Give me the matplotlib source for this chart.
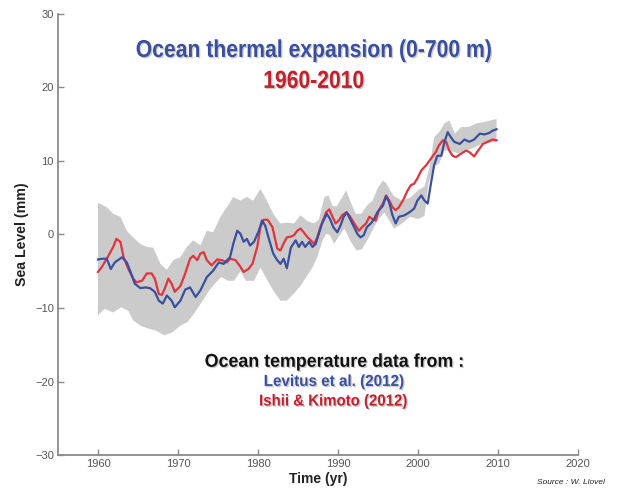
import numpy as np
import matplotlib
matplotlib.use("Agg")
from matplotlib import pyplot as plt
from matplotlib.transforms import Affine2D
import matplotlib.patheffects as pe

# Levitus et al. (2012), blue
lev_years = [1960.0, 1960.5, 1961.1, 1961.6, 1962.1, 1963.0, 1963.6, 1964.0, 1964.6, 1965.3,
             1965.9, 1966.5, 1967.1, 1967.6, 1968.1, 1968.6, 1969.2, 1969.6, 1970.3, 1970.9,
             1971.5, 1972.2, 1972.8, 1973.6, 1974.4, 1975.1, 1975.7, 1976.5, 1976.9, 1977.4,
             1977.8, 1978.2, 1978.6, 1979.0, 1979.5, 1980.1, 1980.5, 1980.9, 1981.3, 1981.9,
             1982.4, 1982.8, 1983.2, 1983.6, 1984.1, 1984.7, 1985.1, 1985.5, 1985.9, 1986.4,
             1986.8, 1987.2, 1987.6, 1988.0, 1988.6, 1989.0, 1989.4, 1989.9, 1990.3, 1990.7,
             1991.1, 1991.5, 1992.0, 1992.4, 1992.8, 1993.2, 1993.6, 1994.1, 1994.5, 1994.9,
             1995.6, 1996.0, 1996.4, 1996.8, 1997.2, 1997.6, 1998.3, 1998.9, 1999.5, 1999.9,
             2000.4, 2000.8, 2001.2, 2001.6, 2002.0, 2002.4, 2002.9, 2003.3, 2003.7, 2004.1,
             2004.5, 2005.2, 2005.8, 2006.4, 2007.0, 2007.7, 2008.3, 2008.9, 2009.3, 2009.8]
lev_mm = [-3.4, -3.3, -3.3, -4.7, -3.8, -3.1, -3.8, -4.9, -6.7, -7.3,
          -7.2, -7.3, -7.8, -9.0, -9.4, -8.3, -9.0, -9.9, -9.0, -7.5,
          -7.2, -8.5, -7.6, -5.8, -4.9, -3.8, -4.0, -3.1, -1.3, 0.5,
          0.1, -1.0, -0.6, -1.5, -1.0, 0.5, 1.9, 1.2, -0.4, -2.6,
          -3.5, -4.0, -3.3, -4.6, -1.8, -0.8, -1.7, -1.0, -1.7, -1.0,
          -1.7, -1.3, 0.1, 1.5, 2.8, 2.1, 1.0, 0.3, 1.2, 2.4,
          3.0, 2.1, 1.0, 0.1, -0.4, -0.1, 1.0, 1.5, 2.1, 3.0,
          3.9, 5.2, 4.3, 2.6, 1.5, 2.4, 2.6, 3.0, 3.5, 4.6,
          5.3, 4.6, 4.2, 6.9, 9.4, 10.7, 10.7, 12.6, 13.9, 13.2,
          12.6, 12.3, 12.9, 12.6, 12.9, 13.7, 13.6, 13.8, 14.1, 14.3]

# Ishii & Kimoto (2012), red
ish_years = [1960.0, 1960.5, 1961.3, 1961.9, 1962.3, 1962.8, 1963.2, 1963.8, 1964.4, 1964.8,
             1965.5, 1966.1, 1966.7, 1967.1, 1967.6, 1968.0, 1968.4, 1968.8, 1969.2, 1969.6,
             1970.3, 1970.9, 1971.5, 1971.9, 1972.4, 1972.8, 1973.2, 1973.6, 1974.2, 1974.9,
             1975.5, 1976.1, 1976.5, 1977.2, 1977.8, 1978.2, 1978.8, 1979.3, 1979.9, 1980.3,
             1980.7, 1981.2, 1981.8, 1982.4, 1982.8, 1983.2, 1983.6, 1984.1, 1984.5, 1984.9,
             1985.3, 1985.7, 1986.2, 1986.6, 1987.0, 1987.4, 1987.8, 1988.5, 1988.9, 1989.3,
             1989.7, 1990.1, 1990.5, 1991.0, 1991.4, 1991.8, 1992.2, 1992.6, 1993.0, 1993.5,
             1993.9, 1994.3, 1994.7, 1995.1, 1995.6, 1996.0, 1996.4, 1996.8, 1997.2, 1997.6,
             1998.1, 1998.7, 1999.1, 1999.5, 1999.9, 2000.4, 2001.0, 2001.6, 2002.2, 2002.6,
             2003.1, 2003.5, 2003.9, 2004.3, 2004.7, 2005.4, 2006.0, 2006.4, 2007.0, 2007.7,
             2008.1, 2008.7, 2009.3, 2009.8]
ish_mm = [-5.1, -4.4, -2.9, -1.7, -0.6, -1.0, -3.1, -4.7, -6.0, -6.5,
          -6.3, -5.3, -5.3, -6.0, -8.1, -8.2, -7.2, -6.0, -6.7, -7.8,
          -7.0, -5.3, -3.3, -2.9, -3.5, -2.6, -2.4, -3.5, -4.2, -3.4,
          -3.5, -3.8, -3.3, -3.5, -4.4, -5.1, -4.7, -4.0, -1.7, 1.0,
          2.0, 2.0, 1.0, -1.9, -2.2, -1.2, -0.4, -0.3, -0.1, 0.5,
          0.8, 0.3, -0.4, -0.8, -1.3, -0.4, 1.0, 3.0, 3.4, 2.4,
          1.5, 1.9, 2.6, 3.0, 2.6, 1.9, 1.2, 0.5, 1.0, 1.5,
          2.4, 2.1, 1.9, 3.3, 4.2, 5.3, 4.6, 3.7, 3.3, 3.7,
          4.6, 6.0, 6.7, 6.9, 7.6, 8.7, 9.4, 10.3, 11.2, 12.1,
          12.8, 12.6, 11.4, 10.7, 10.5, 11.0, 11.4, 11.2, 10.6, 11.7,
          12.3, 12.6, 12.9, 12.8]

# uncertainty envelope (grey)
up_years = [1960.0, 1961.1, 1961.9, 1962.8, 1963.6, 1964.4, 1965.3, 1966.1, 1966.9, 1967.8,
            1968.6, 1969.4, 1970.3, 1971.1, 1971.9, 1972.8, 1973.6, 1974.4, 1975.3, 1976.1,
            1976.9, 1977.8, 1978.6, 1979.4, 1980.3, 1981.1, 1981.9, 1982.8, 1983.6, 1984.5,
            1985.3, 1986.2, 1987.0, 1987.6, 1988.3, 1988.8, 1989.3, 1989.8, 1990.5, 1991.0,
            1991.5, 1992.2, 1992.9, 1993.6, 1994.3, 1995.0, 1995.6, 1996.0, 1996.5, 1997.0,
            1998.0, 1999.0, 2000.0, 2000.8, 2001.5, 2002.0, 2002.7, 2003.3, 2003.9, 2004.6,
            2005.4, 2006.3, 2007.3, 2008.3, 2009.1, 2009.8]
up_mm = [4.3, 3.7, 2.8, 2.4, 0.5, -0.4, -1.3, -1.7, -1.8, -4.0,
         -4.8, -3.5, -3.1, -1.7, -0.8, -1.5, 0.5, 0.3, 2.4, 3.7,
         5.1, 4.6, 5.1, 4.6, 6.2, 4.6, 2.8, 1.5, 1.6, 1.5,
         2.6, 1.8, 1.5, 2.0, 5.1, 5.3, 3.9, 3.8, 5.0, 6.0,
         4.6, 2.8, 2.8, 3.9, 4.6, 6.4, 7.3, 7.0, 6.0, 5.2,
         4.6, 5.0, 6.0, 6.5, 9.5, 13.2, 14.0, 15.1, 15.5, 13.7,
         14.6, 14.6, 15.1, 15.3, 15.5, 15.7]
lo_years = [1960.0, 1960.8, 1961.9, 1962.9, 1963.8, 1964.4, 1965.3, 1966.3, 1967.3, 1968.3,
            1969.3, 1970.3, 1971.2, 1972.1, 1973.1, 1973.9, 1974.6, 1975.4, 1976.3, 1977.0,
            1977.8, 1978.5, 1979.5, 1980.3, 1981.2, 1981.9, 1982.8, 1983.6, 1984.5, 1985.3,
            1986.2, 1986.8, 1987.4, 1988.0, 1988.5, 1989.0, 1989.5, 1990.0, 1990.8, 1991.5,
            1992.3, 1993.0, 1993.8, 1994.5, 1995.1, 1995.8, 1996.4, 1997.0, 1998.0, 1999.0,
            2000.0, 2000.8, 2001.3, 2001.9, 2002.6, 2003.3, 2004.0, 2005.0, 2006.0, 2007.0,
            2008.0, 2009.8]
lo_mm = [-11.0, -10.1, -10.6, -9.9, -10.4, -11.7, -12.4, -12.8, -13.1, -13.7,
         -13.3, -12.4, -11.9, -10.6, -9.0, -7.6, -6.7, -5.8, -6.3, -6.3,
         -5.0, -6.3, -6.3, -4.5, -6.3, -7.6, -9.0, -9.0, -8.0, -7.0,
         -5.5, -4.5, -3.1, -1.0, 0.1, -0.1, -1.3, -0.4, 0.8, -0.8,
         -2.2, -2.0, -0.5, 1.0, 2.1, 3.0, 1.9, 0.8, 1.5, 2.4,
         2.1, 2.5, 6.9, 9.2, 9.6, 11.4, 11.4, 11.0, 11.4, 11.8,
         12.3, 12.6]

x_ticks = [1960, 1970, 1980, 1990, 2000, 2010, 2020]
y_ticks = [-30, -20, -10, 0, 10, 20, 30]

blue = '#3a4f9e'
red = '#c2202b'


class Squeeze(pe.AbstractPathEffect):
    """narrow the glyphs horizontally around cx (display px) and add a soft shadow"""

    def __init__(self, cx, sx):
        super().__init__()
        self.cx = cx
        self.sx = sx

    def draw_path(self, renderer, gc, tpath, affine, rgbFace=None):
        sq = affine + Affine2D().translate(-self.cx, 0).scale(self.sx, 1).translate(self.cx, 0)
        gc0 = renderer.new_gc()
        gc0.copy_properties(gc)
        gc0.set_foreground('#8c8c8c')
        gc0.set_alpha(0.45)
        renderer.draw_path(gc0, tpath, sq + Affine2D().translate(1.3, -1.3), (0.55, 0.55, 0.55))
        gc0.restore()
        renderer.draw_path(gc, tpath, sq, rgbFace)


fig = plt.figure(figsize=(6.2, 4.91), dpi=100)
ax = fig.add_axes([0.0935, 0.073, 0.839, 0.899])

ax.fill(np.r_[up_years, lo_years[::-1]], np.r_[up_mm, lo_mm[::-1]],
        color='#cbcbcb', lw=0, zorder=1)
ax.plot(lev_years, lev_mm, color=blue, lw=1.6, zorder=3)
ax.plot(ish_years, ish_mm, color='#e0343e', lw=1.6, zorder=2)

ax.set_xlim(1955, 2020)
ax.set_ylim(-30, 30)
ax.set_xticks(x_ticks)
ax.set_yticks(y_ticks)
for s in ['top', 'right']:
    ax.spines[s].set_visible(False)
for s in ['left', 'bottom']:
    ax.spines[s].set_color('#8a8a8a')
    ax.spines[s].set_linewidth(1.3)
ax.tick_params(direction='in', length=4, width=1, color='#8a8a8a',
               labelcolor='#555555', labelsize=8, pad=3)
for lab in ax.get_xticklabels() + ax.get_yticklabels():
    lab.set_family('Liberation Sans')

ax.set_xlabel('Time (yr)', family='Liberation Sans', fontweight='bold', fontsize=10,
              color='#222222', labelpad=2)
ax.set_ylabel('Sea Level (mm)', family='Liberation Sans', fontweight='bold', fontsize=10.2,
              color='#222222', labelpad=4)

# headline texts: (x, baseline y, string, size pt, colour, width in px)
heads = [
    (0.506, 0.884, 'Ocean thermal expansion (0-700 m)', 17.6, blue, 356),
    (0.506, 0.821, '1960-2010', 17.8, red, 101),
    (0.539, 0.253, 'Ocean temperature data from :', 13.4, '#111111', 259),
    (0.539, 0.214, 'Levitus et al. (2012)', 11.5, blue, 141),
    (0.538, 0.174, 'Ishii & Kimoto (2012)', 11.5, red, 149),
]
texts = []
for x, y, s, size, col, w in heads:
    t = fig.text(x, y, s, ha='center', va='baseline', family='Liberation Sans',
                 fontweight='bold', fontsize=size, color=col)
    texts.append((t, x, w))
fig.canvas.draw()
for t, x, w in texts:
    natural = t.get_window_extent().width
    t.set_path_effects([Squeeze(x * fig.bbox.width, w / natural)])

fig.text(0.975, 0.018, 'Source : W. Llovel', ha='right', va='center',
         family='Liberation Sans', style='italic', fontsize=6, color='#222222')

fig.savefig('out.png', dpi=100)
